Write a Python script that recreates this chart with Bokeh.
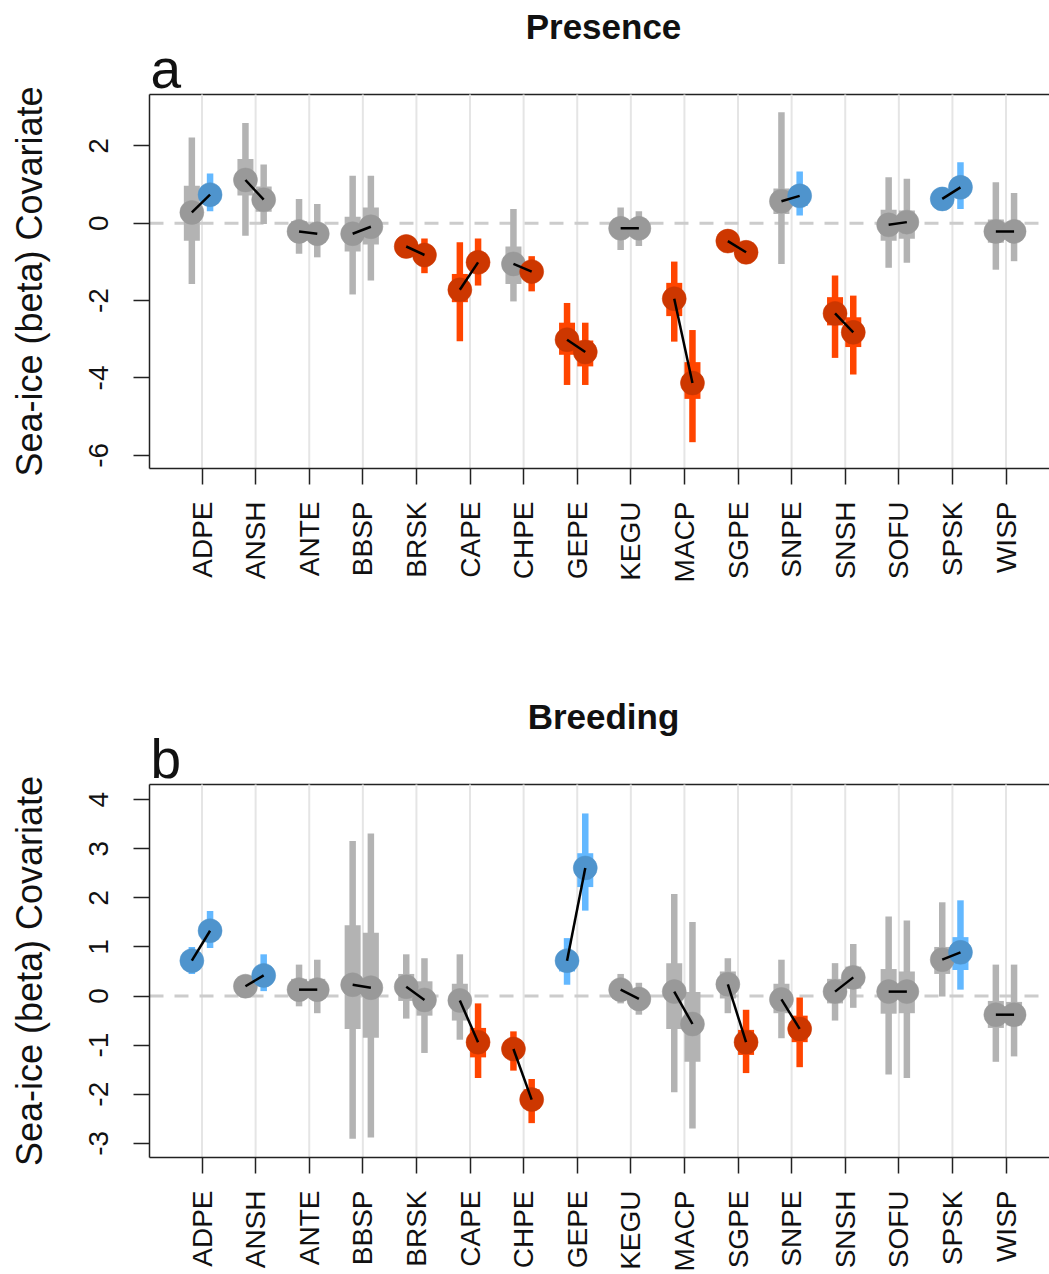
import math
from bokeh.plotting import figure
from bokeh.models import Label, FixedTicker
from bokeh.core.properties import value
from bokeh.layouts import column
from bokeh.embed import file_html
from bokeh.resources import INLINE

# ---- data -----------------------------------------------------------------
species = ["ADPE", "ANSH", "ANTE", "BBSP", "BRSK", "CAPE", "CHPE", "GEPE",
           "KEGU", "MACP", "SGPE", "SNPE", "SNSH", "SOFU", "SPSK", "WISP"]

# Presence, first covariate model
pres1_mean = [0.28, 1.12, -0.21, -0.27, -0.60, -1.72, -1.05, -3.01, -0.13, -1.95, -0.46, 0.57, -2.33, -0.04, 0.63, -0.21]
pres1_lo95 = [-1.57, -0.32, -0.79, -1.84, -0.88, -3.05, -2.02, -4.18, -0.69, -3.06, -0.70, -1.05, -3.48, -1.15, 0.35, -1.20]
pres1_hi95 = [2.22, 2.59, 0.63, 1.23, -0.32, -0.49, 0.37, -2.06, 0.41, -0.99, -0.25, 2.87, -1.35, 1.19, 0.93, 1.06]
pres1_lo50 = [-0.45, 0.72, -0.45, -0.73, -0.75, -2.04, -1.57, -3.40, -0.35, -2.40, -0.58, 0.24, -2.64, -0.45, 0.50, -0.50]
pres1_hi50 = [0.97, 1.66, 0.05, 0.17, -0.45, -1.31, -0.60, -2.57, 0.08, -1.54, -0.35, 0.90, -1.91, 0.35, 0.76, 0.10]

# Presence, second covariate model
pres2_mean = [0.74, 0.61, -0.27, -0.09, -0.82, -1.01, -1.25, -3.33, -0.13, -4.13, -0.75, 0.71, -2.82, 0.03, 0.93, -0.21]
pres2_lo95 = [0.31, -0.02, -0.88, -1.48, -1.29, -1.61, -1.76, -4.18, -0.59, -5.66, -1.00, 0.20, -3.91, -1.02, 0.37, -0.98]
pres2_hi95 = [1.29, 1.52, 0.50, 1.23, -0.39, -0.39, -0.85, -2.57, 0.31, -2.76, -0.52, 1.34, -1.87, 1.15, 1.58, 0.78]
pres2_lo50 = [0.55, 0.30, -0.50, -0.55, -1.00, -1.25, -1.45, -3.70, -0.30, -4.54, -0.85, 0.45, -3.20, -0.40, 0.70, -0.45]
pres2_hi50 = [0.95, 0.95, -0.05, 0.41, -0.65, -0.78, -1.05, -3.03, 0.00, -3.59, -0.65, 0.95, -2.43, 0.33, 1.15, 0.00]

# Breeding, first covariate model
breed1_mean = [0.72, 0.20, 0.13, 0.23, 0.19, -0.09, -1.08, 0.72, 0.13, 0.09, 0.24, -0.07, 0.09, 0.09, 0.74, -0.38]
breed1_lo95 = [0.45, -0.03, -0.21, -2.91, -0.46, -0.89, -1.52, 0.23, -0.15, -1.96, -0.35, -0.86, -0.50, -1.60, -0.01, -1.34]
breed1_hi95 = [1.00, 0.42, 0.64, 3.16, 0.85, 0.85, -0.72, 1.18, 0.45, 2.08, 0.77, 0.74, 0.67, 1.62, 1.91, 0.64]
breed1_lo50 = [0.60, 0.10, -0.05, -0.67, -0.10, -0.50, -1.25, 0.50, 0.00, -0.67, -0.05, -0.35, -0.15, -0.36, 0.45, -0.65]
breed1_hi50 = [0.85, 0.30, 0.35, 1.44, 0.45, 0.25, -0.90, 0.90, 0.28, 0.67, 0.50, 0.25, 0.35, 0.55, 1.00, -0.10]

# Breeding, second covariate model
breed2_mean = [1.33, 0.42, 0.13, 0.17, -0.08, -0.94, -2.11, 2.61, -0.06, -0.57, -0.94, -0.67, 0.38, 0.09, 0.89, -0.38]
breed2_lo95 = [0.98, 0.10, -0.35, -2.88, -1.16, -1.67, -2.59, 1.74, -0.38, -2.70, -1.57, -1.45, -0.24, -1.67, 0.13, -1.23]
breed2_hi95 = [1.73, 0.85, 0.74, 3.31, 0.77, -0.15, -1.69, 3.72, 0.27, 1.51, -0.28, -0.03, 1.06, 1.54, 1.95, 0.64]
breed2_lo50 = [1.15, 0.25, -0.05, -0.85, -0.40, -1.25, -2.30, 2.22, -0.20, -1.34, -1.20, -0.94, 0.15, -0.35, 0.53, -0.60]
breed2_hi50 = [1.50, 0.60, 0.35, 1.29, 0.30, -0.65, -1.90, 2.91, 0.08, 0.08, -0.69, -0.40, 0.60, 0.50, 1.20, -0.12]

pres_ticks = [2, 0, -2, -4, -6]
breed_ticks = [4, 3, 2, 1, 0, -1, -2, -3]

# ---- styling ----------------------------------------------------------------
FONT = "Liberation Sans"
INK = "#222222"
TEXT = "#111111"
GRAY_BAR, GRAY_PT = "#B3B3B3", "#999999"
BLUE_BAR, BLUE_PT = "#63B8FF", "#4F94CD"
RED_BAR, RED_PT = "#FF4500", "#CD3700"

W = 1049
BOX_LEFT_PX = 149          # left edge of the drawn box
UNIT_PX = 53.6             # horizontal pixels per species slot
BOX_X0 = 0.02              # data x at the left edge of the box
X_LEFT = BOX_X0 - BOX_LEFT_PX / UNIT_PX
X_END = BOX_X0 + (W - BOX_LEFT_PX) / UNIT_PX
OFFSETS = (-0.19, 0.15)


def colours(lo95, hi95):
    bars, pts = [], []
    for lo, hi in zip(lo95, hi95):
        if lo > 0:
            bars.append(BLUE_BAR); pts.append(BLUE_PT)
        elif hi < 0:
            bars.append(RED_BAR); pts.append(RED_PT)
        else:
            bars.append(GRAY_BAR); pts.append(GRAY_PT)
    return bars, pts


def panel(title, letter, models, y_lim, ticks, height, box_top_px, box_bottom_px):
    """One panel. The plot frame covers the whole canvas; both axes are pinned
    to the edges of the drawn box, and the heading, panel letter and y title
    sit around it."""
    y0, y_box = y_lim
    px_per_unit = (box_bottom_px - box_top_px) / (y_box - y0)
    y_end = y_box + box_top_px / px_per_unit
    y_start = y0 - (height - box_bottom_px) / px_per_unit

    p = figure(width=W, height=height, x_range=(X_LEFT, X_END), y_range=(y_start, y_end),
               output_backend="svg", toolbar_location=None,
               min_border_left=0, min_border_right=0,
               min_border_top=0, min_border_bottom=0)
    p.outline_line_color = None
    p.background_fill_color = "white"
    p.border_fill_color = "white"

    def xd(px):
        return X_LEFT + px / UNIT_PX

    def yd(py):
        return y_end - py / px_per_unit

    idx = list(range(1, len(species) + 1))

    # axes
    p.xaxis.ticker = FixedTicker(ticks=idx)
    p.xaxis.major_label_overrides = {i: s for i, s in zip(idx, species)}
    p.xaxis.bounds = (BOX_X0, X_END)
    p.xaxis.fixed_location = y0
    p.yaxis.ticker = FixedTicker(ticks=ticks)
    p.yaxis.major_label_overrides = {t: "" for t in ticks}   # drawn below as text
    p.yaxis.bounds = (y0, y_box)
    p.yaxis.fixed_location = BOX_X0
    for ax in (p.xaxis[0], p.yaxis[0]):
        ax.axis_line_color = INK
        ax.axis_line_width = 1.5
        ax.major_tick_line_color = INK
        ax.major_tick_line_width = 1.5
        ax.major_tick_out = 16
        ax.major_tick_in = 0
        ax.minor_tick_line_color = None
        ax.major_label_text_font = FONT
        ax.major_label_text_font_size = "28px"
        ax.major_label_text_color = TEXT
        ax.major_label_orientation = math.pi / 2
    p.xaxis.major_label_standoff = 17

    # y tick labels, centred on their ticks and reading upwards
    p.text(x=[xd(98)] * len(ticks), y=ticks, text=[str(t) for t in ticks],
           angle=math.pi / 2, text_font=value(FONT), text_font_size="28px",
           text_color=TEXT, text_align="center", text_baseline="middle")

    p.xgrid.grid_line_color = None
    p.ygrid.grid_line_color = None

    n = len(idx)
    # top edge of the box
    p.segment(x0=[BOX_X0], y0=[y_box], x1=[X_END], y1=[y_box], line_color=INK, line_width=1.5)

    # vertical guides at each species, inside the box only
    p.segment(x0=idx, y0=[y0] * n, x1=idx, y1=[y_box] * n, line_color="#E5E5E5", line_width=2)

    # zero reference
    p.segment(x0=[BOX_X0], y0=[0], x1=[X_END], y1=[0], line_color="#CCCCCC",
              line_width=3, line_dash="14 11")

    xs_all, means_all, pcols_all = [], [], []
    for (mean, lo95, hi95, lo50, hi50), off in zip(models, OFFSETS):
        xs = [i + off for i in idx]
        bar_c, pt_c = colours(lo95, hi95)
        p.segment(x0=xs, y0=lo95, x1=xs, y1=hi95, line_color=bar_c, line_width=6.5)
        p.segment(x0=xs, y0=lo50, x1=xs, y1=hi50, line_color=bar_c, line_width=16)
        xs_all.append(xs); means_all.append(mean); pcols_all.append(pt_c)

    for xs, mean, pc in zip(xs_all, means_all, pcols_all):
        p.scatter(x=xs, y=mean, size=24, fill_color=pc, line_color=pc, line_width=0.5)

    p.segment(x0=xs_all[0], y0=means_all[0], x1=xs_all[1], y1=means_all[1],
              line_color="black", line_width=2.5)

    # heading, panel letter and y-axis title
    p.add_layout(Label(x=xd(603), y=yd(box_top_px - 68), text=title, text_font=FONT,
                       text_font_size="35px", text_font_style="bold", text_color=TEXT,
                       text_align="center", text_baseline="middle"))
    p.add_layout(Label(x=xd(150), y=yd(box_top_px - 26), text=letter, text_font=FONT,
                       text_font_size="55px", text_color=TEXT, text_align="left",
                       text_baseline="middle"))
    p.add_layout(Label(x=xd(29), y=yd((box_top_px + box_bottom_px) / 2),
                       text="Sea-ice (beta) Covariate",
                       text_font=FONT, text_font_size="36px", text_color=TEXT,
                       angle=math.pi / 2, text_align="center", text_baseline="middle"))
    return p


p1 = panel("Presence", "a",
           [(pres1_mean, pres1_lo95, pres1_hi95, pres1_lo50, pres1_hi50),
            (pres2_mean, pres2_lo95, pres2_hi95, pres2_lo50, pres2_hi50)],
           (-6.34, 3.33), pres_ticks, 637, 94, 468)

p2 = panel("Breeding", "b",
           [(breed1_mean, breed1_lo95, breed1_hi95, breed1_lo50, breed1_hi50),
            (breed2_mean, breed2_lo95, breed2_hi95, breed2_lo50, breed2_hi50)],
           (-3.29, 4.31), breed_ticks, 637, 147, 520)

layout = column(p1, p2)
open("out.html", "w").write(file_html(layout, INLINE))
